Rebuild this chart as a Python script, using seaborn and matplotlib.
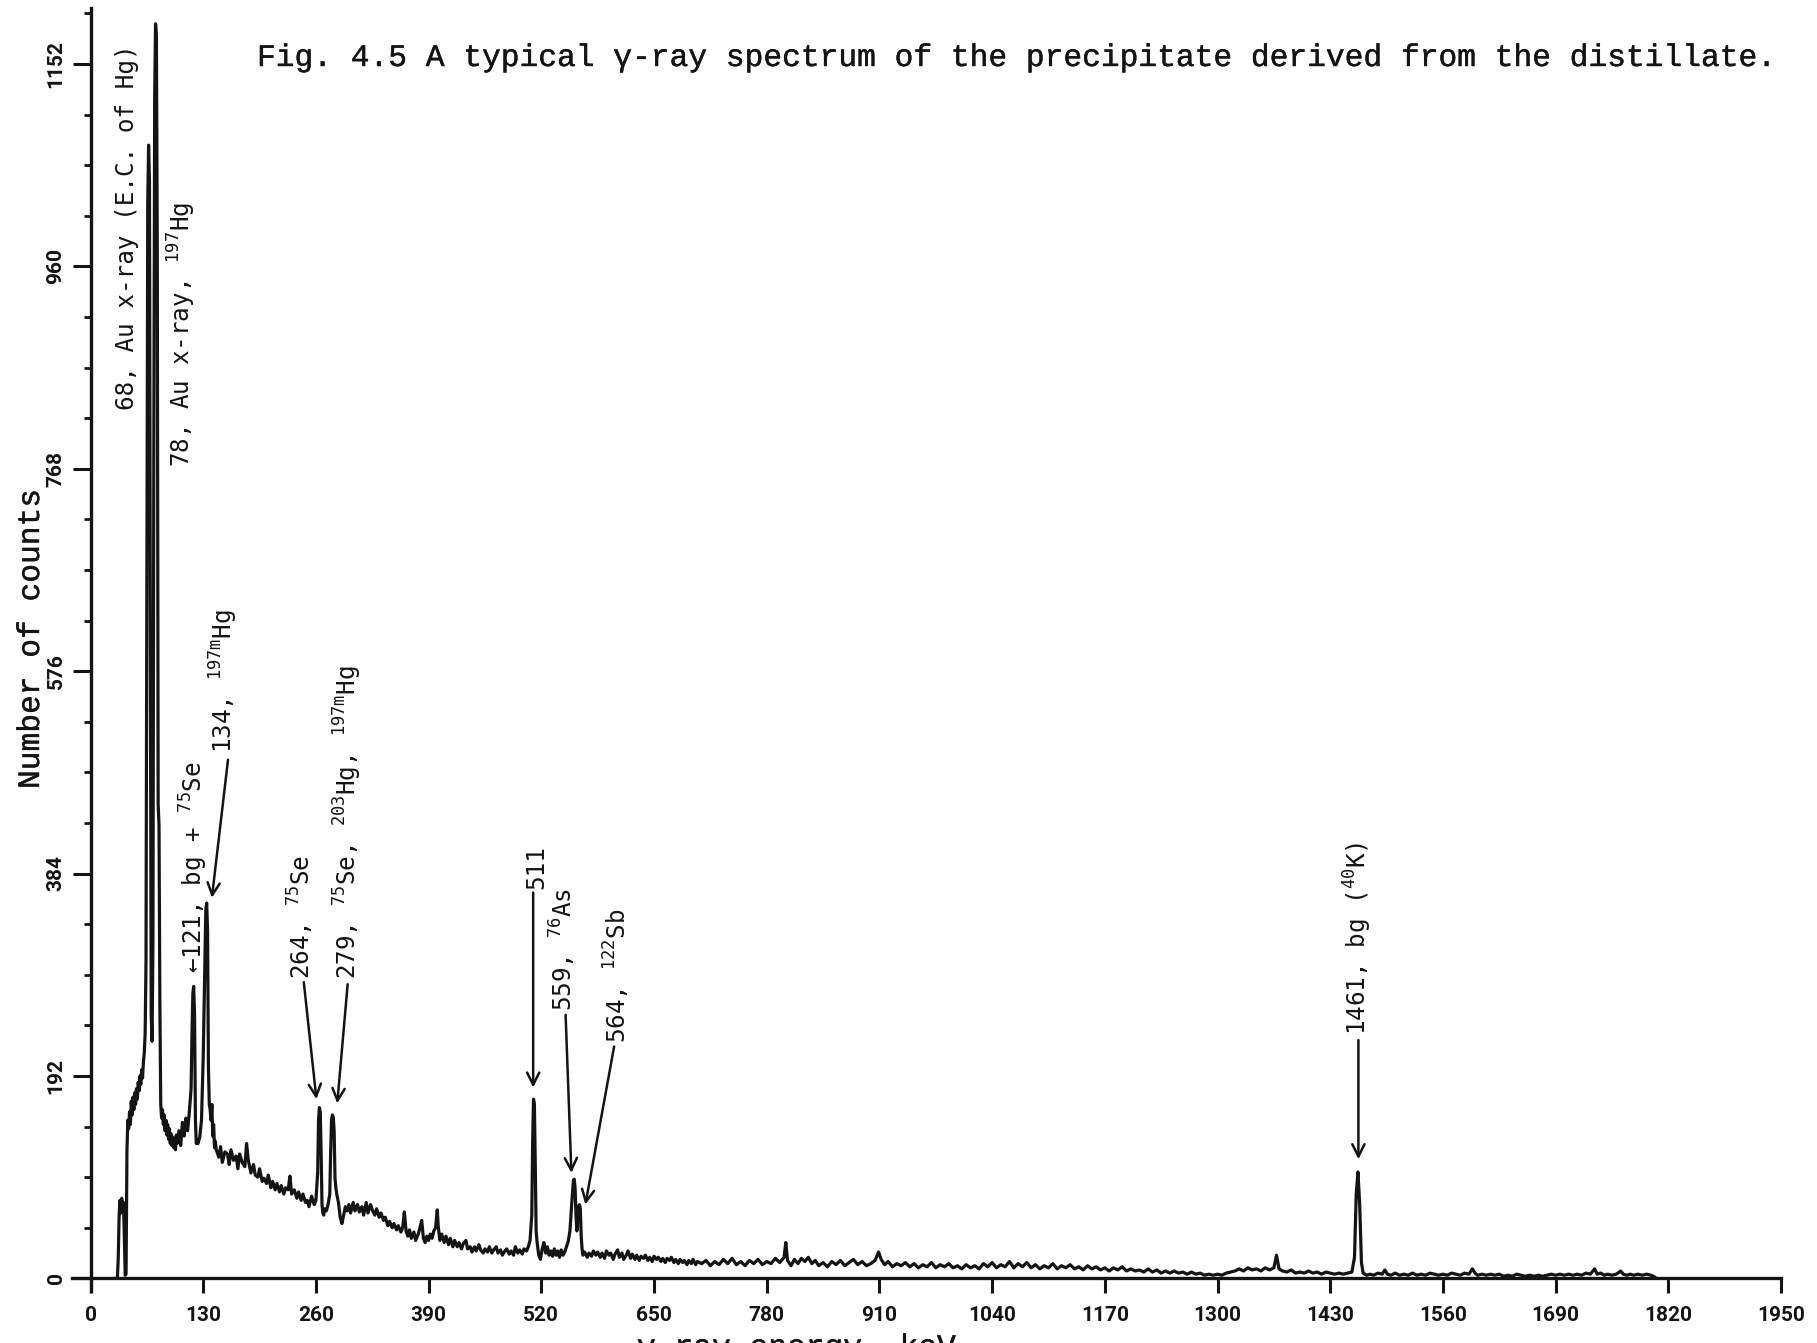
import numpy as np
import pandas as pd
import matplotlib
matplotlib.use("Agg")
import matplotlib.pyplot as plt
import matplotlib.patheffects as pe
from matplotlib.ticker import MultipleLocator, FixedLocator
from matplotlib import font_manager as fm
import seaborn as sns

# ---------------- data ----------------
e_low = [28, 31, 32, 33, 34, 35, 36, 37, 38, 39, 40, 41, 42, 43, 44, 45, 46, 47, 48, 49,
         50, 51, 52, 53, 54, 55, 56, 57, 58, 59, 60, 61, 62, 63, 64, 65, 66, 67, 68, 69,
         70, 71, 72, 73, 74, 75, 76, 77, 78, 79, 80, 81, 82, 83, 84, 85, 86, 87, 88, 89,
         90, 91, 92, 93, 94, 95, 96, 97, 98, 99, 100, 102, 104, 106, 108, 110, 112, 114,
         116, 117, 118, 119, 120, 121, 122, 123, 124, 126, 128, 130, 132, 133, 134, 135,
         136, 137, 138, 139, 140, 141, 142, 143, 144]
c_low = [0, 0, 20, 60, 74, 62, 76, 66, 72, 40, 3, 4, 120, 150, 142, 158, 146, 168, 155, 172,
         160, 176, 165, 180, 170, 186, 178, 192, 184, 198, 190, 205, 214, 232, 300, 650, 1020, 1075, 1040, 600,
         250, 225, 320, 780, 1120, 1190, 1180, 980, 450, 430, 260, 165, 152, 160, 146, 155, 140, 150, 136, 146,
         132, 142, 128, 137, 126, 134, 124, 131, 122, 136, 128, 140, 126, 148, 135, 152, 140, 158,
         180, 230, 270, 277, 250, 150, 128, 130, 128, 134, 150, 210, 300, 350, 356, 330,
         200, 165, 160, 150, 165, 135, 146, 124, 130]

e_mid = [145, 148, 150, 152, 155, 158, 160, 162, 165, 168, 170, 172, 175, 178, 180, 182, 185, 188,
         190, 193, 195, 198, 200, 203, 205, 208, 210, 213, 215, 218, 220, 223, 225, 228, 230, 232,
         235, 238, 240, 243, 245, 248, 250, 252, 255, 258, 260, 262, 263, 264, 265, 266, 267, 268,
         269, 270, 272, 274, 276, 277, 278, 279, 280, 281, 282, 283, 284, 286, 288, 290, 292, 294,
         296, 298, 300, 303, 305, 308, 310, 313, 315, 318, 320, 323, 325, 328, 330, 333, 335, 338,
         340, 343, 345, 348, 350, 353, 355, 358, 360, 362, 364, 366, 368, 370, 373, 375, 378, 380,
         382, 384, 386, 388, 390, 392, 394, 396, 398, 400, 401, 403, 405, 408, 410, 413, 415, 418,
         420, 423, 425, 428, 430, 433, 435, 438, 440, 443, 445, 448, 450, 453, 455, 458, 460, 463,
         465, 468, 470, 473, 475, 478, 480, 483, 485, 488, 490, 493, 495, 498, 500, 503, 505, 507,
         509, 510, 511, 512, 513, 514, 515, 517, 519, 521, 523, 525, 527, 529, 531, 533, 535, 537,
         539, 541, 543, 545, 547, 549, 551, 553, 555, 557, 558, 559, 560, 561, 562, 563, 564, 565,
         566, 567, 568, 570, 573, 575, 578, 580, 583, 585, 588, 590, 593, 595, 598, 600, 603, 605,
         608, 610, 613, 615, 618, 620, 623, 625, 628, 630, 633, 635, 638, 640, 643, 645, 648, 650,
         653, 655, 658, 660, 663, 665, 668, 670, 673, 675, 678, 680, 683, 685, 688, 690, 693, 695,
         698, 700]
c_mid = [122, 115, 125, 110, 120, 118, 108, 122, 112, 116, 104, 118, 110, 106, 128, 112, 100, 108,
         98, 96, 104, 92, 95, 90, 98, 86, 92, 84, 90, 82, 88, 80, 86, 84, 97, 80,
         84, 76, 82, 74, 80, 72, 74, 68, 78, 70, 74, 100, 150, 162, 158, 120, 70, 62,
         60, 66, 64, 70, 80, 120, 150, 155, 153, 140, 95, 86, 80, 72, 58, 52, 60, 68,
         64, 70, 62, 72, 64, 70, 63, 68, 60, 72, 62, 70, 65, 60, 66, 58, 62, 55,
         58, 50, 54, 48, 52, 46, 50, 44, 48, 63, 45, 40, 46, 38, 44, 36, 42, 48,
         55, 38, 34, 40, 36, 42, 38, 45, 48, 65, 50, 36, 42, 34, 40, 32, 38, 30,
         36, 30, 34, 28, 33, 36, 28, 30, 25, 30, 26, 32, 27, 24, 28, 25, 30, 24,
         27, 30, 24, 27, 22, 26, 28, 23, 26, 22, 30, 24, 27, 23, 28, 26, 30, 36,
         60, 130, 170, 165, 110, 45, 35, 22, 18, 28, 34, 24, 30, 22, 26, 21, 28, 22,
         26, 20, 27, 22, 25, 30, 35, 45, 70, 93, 94, 85, 60, 45, 55, 68, 70, 66,
         40, 28, 22, 25, 20, 24, 21, 26, 22, 25, 20, 24, 19, 26, 22, 24, 18, 23,
         27, 20, 24, 18, 22, 26, 19, 23, 18, 22, 17, 21, 19, 22, 17, 20, 16, 21,
         18, 20, 16, 19, 15, 19, 17, 20, 15, 18, 14, 18, 15, 17, 13, 17, 14, 18,
         13, 16]

e_high = [705, 710, 715, 720, 725, 730, 735, 740, 745, 750, 755, 760, 765, 770, 775, 780, 785, 790,
          795, 800, 802, 804, 808, 812, 816, 820, 824, 828, 832, 836, 840, 845, 850, 855, 860, 865,
          870, 875, 880, 885, 890, 895, 900, 905, 909, 912, 916, 920, 925, 930, 935, 940, 945, 950,
          955, 960, 965, 970, 975, 980, 985, 990, 995, 1000, 1005, 1010, 1015, 1020, 1025, 1030, 1035, 1040,
          1045, 1050, 1055, 1060, 1065, 1070, 1075, 1080, 1085, 1090, 1095, 1100, 1105, 1110, 1115, 1120,
          1125, 1130, 1135, 1140, 1145, 1150, 1155, 1160, 1165, 1170, 1175, 1180, 1185, 1190, 1195, 1200,
          1205, 1210, 1215, 1220, 1225, 1230, 1235, 1240, 1245, 1250, 1255, 1260, 1265, 1270, 1275, 1280,
          1285, 1290, 1295, 1300, 1305, 1310, 1315, 1320, 1325, 1330, 1335, 1340, 1345, 1350, 1355, 1360,
          1365, 1368, 1371, 1375, 1380, 1385, 1390, 1395, 1400, 1405, 1410, 1415, 1420, 1425, 1430, 1435,
          1440, 1445, 1450, 1455, 1458, 1460, 1462, 1464, 1466, 1468, 1472, 1476, 1480, 1485, 1490, 1493,
          1496, 1500, 1505, 1510, 1515, 1520, 1525, 1530, 1535, 1540, 1545, 1550, 1555, 1560, 1565, 1570,
          1575, 1580, 1585, 1590, 1594, 1597, 1600, 1605, 1610, 1615, 1620, 1625, 1630, 1635, 1640, 1645,
          1650, 1655, 1660, 1665, 1670, 1675, 1680, 1685, 1690, 1695, 1700, 1705, 1710, 1715, 1720, 1725,
          1730, 1735, 1738, 1742, 1746, 1750, 1755, 1760, 1765, 1768, 1772, 1776, 1780, 1785, 1790, 1795,
          1800, 1805]
c_high = [14, 17, 12, 16, 13, 18, 14, 19, 13, 16, 12, 17, 14, 18, 13, 16, 14, 19,
          15, 20, 34, 17, 12, 18, 14, 19, 16, 20, 14, 17, 12, 15, 11, 16, 13, 17,
          12, 15, 18, 13, 16, 12, 14, 17, 25, 18, 13, 16, 11, 14, 12, 15, 11, 14,
          10, 13, 11, 15, 10, 13, 11, 14, 10, 12, 9, 13, 10, 12, 9, 14, 11, 15,
          10, 13, 11, 16, 10, 14, 11, 15, 10, 13, 9, 12, 10, 14, 9, 12,
          10, 13, 9, 11, 8, 12, 9, 11, 8, 10, 7, 10, 8, 11, 7, 9,
          7, 8, 6, 9, 6, 8, 5, 7, 5, 7, 5, 6, 4, 6, 4, 5,
          3, 4, 3, 4, 3, 5, 6, 7, 9, 7, 10, 8, 9, 7, 10, 8,
          10, 22, 9, 7, 6, 8, 5, 6, 5, 7, 5, 6, 4, 6, 5, 4,
          5, 4, 5, 6, 20, 80, 101, 70, 15, 5, 3, 4, 3, 5, 4, 8,
          4, 3, 5, 3, 4, 3, 5, 3, 4, 3, 5, 4, 3, 4, 3, 5,
          4, 3, 5, 4, 9, 5, 3, 4, 3, 4, 3, 4, 2, 3, 2, 4,
          3, 2, 3, 2, 3, 2, 3, 4, 3, 4, 3, 4, 3, 4, 3, 5,
          4, 9, 4, 5, 3, 4, 3, 4, 7, 4, 3, 4, 3, 4, 3, 4,
          3, 1]

x_tick_values = [0, 130, 260, 390, 520, 650, 780, 910, 1040, 1170, 1300, 1430, 1560, 1690, 1820, 1950]
y_tick_values = [0, 192, 384, 576, 768, 960, 1152]

title_text = "Fig. 4.5 A typical \u03b3-ray spectrum of the precipitate derived from the distillate."
ylabel_text = "Number of counts"
xlabel_text = "\u03b3-ray energy, keV"

# peak labels: (text, x, y) and arrows: (x_from, y_from, x_to, y_to)
peak_labels = [
    ("68, Au x-ray (E.C. of Hg)", 42, 824),
    ("78, Au x-ray, $^{197}$Hg", 105, 770),
    ("\u2190121, bg + $^{75}$Se", 119, 290),
    ("134, $^{197m}$Hg", 154, 498),
    ("264, $^{75}$Se", 243, 284),
    ("279, $^{75}$Se, $^{203}$Hg, $^{197m}$Hg", 296.6, 284),
    ("511", 514.6, 369),
    ("559, $^{76}$As", 545, 254),
    ("564, $^{122}$Sb", 607, 223),
    ("1461, bg ($^{40}$K)", 1462.4, 231),
]
peak_arrows = [
    (158.6, 492, 140.0, 361),
    (246.0, 281, 260.6, 170),
    (296.6, 279, 284.6, 166),
    (510.6, 366, 510.6, 181),
    (548.0, 250, 554.7, 100),
    (604.0, 220, 570.8, 70),
    (1462.5, 226, 1462.5, 113),
]

# ---------------- style ----------------
sns.set_style("white")
plt.rcParams["font.family"] = ["DejaVu Sans"]
plt.rcParams["mathtext.fontset"] = "custom"
plt.rcParams["mathtext.rm"] = "DejaVu Sans Mono"
plt.rcParams["mathtext.it"] = "DejaVu Sans Mono"
plt.rcParams["mathtext.bf"] = "DejaVu Sans Mono:bold"
plt.rcParams["mathtext.default"] = "regular"


def has_font(name):
    try:
        fm.findfont(fm.FontProperties(family=name), fallback_to_default=False)
        return True
    except Exception:
        return False


if has_font("Liberation Sans Narrow"):
    tick_family, tick_size = "Liberation Sans Narrow", 16
elif has_font("Roboto"):
    tick_family, tick_size = "Roboto", 15
else:
    tick_family, tick_size = "DejaVu Sans", 13

ink = "#141414"
mono_serif = ["Liberation Mono", "DejaVu Sans Mono"]
mono_sans = ["DejaVu Sans Mono", "DejaVu Sans"]
thicken = [pe.withStroke(linewidth=0.3, foreground=ink)]

df = pd.DataFrame({
    "energy": e_low + e_mid + e_high,
    "counts": c_low + c_mid + c_high,
})

fig = plt.figure(figsize=(18.17, 13.43), dpi=100)
fig.patch.set_facecolor("white")
ax = fig.add_axes([0.0398, 0.0387, 0.9404, 0.9553])
ax.set_facecolor("white")

sns.lineplot(data=df, x="energy", y="counts", ax=ax, color=ink, linewidth=2.3,
             estimator=None, sort=False)
for ln in ax.lines:
    ln.set_solid_joinstyle("round")

ax.set_xlim(-21, 1950)
ax.set_ylim(-12, 1205)

for s in ["top", "right"]:
    ax.spines[s].set_visible(False)
ax.spines["left"].set_position(("data", 0))
ax.spines["bottom"].set_position(("data", 0))
for s in ["left", "bottom"]:
    ax.spines[s].set_linewidth(2.4)
    ax.spines[s].set_color(ink)

ax.xaxis.set_major_locator(FixedLocator(x_tick_values))
ax.yaxis.set_major_locator(FixedLocator(y_tick_values))
ax.yaxis.set_minor_locator(MultipleLocator(48))
ax.set_xticklabels([str(v) for v in x_tick_values])
ax.set_yticklabels([str(v) for v in y_tick_values])

ax.tick_params(axis="x", which="major", bottom=True, direction="out", length=11, width=2.2,
               color=ink, pad=9, labelsize=tick_size, labelcolor=ink)
ax.tick_params(axis="y", which="major", left=True, direction="out", length=13, width=2.2,
               color=ink, pad=5, labelsize=tick_size, labelcolor=ink, labelrotation=90)
ax.tick_params(axis="y", which="minor", left=True, direction="out", length=5, width=2.0, color=ink)
for lab in ax.get_xticklabels() + ax.get_yticklabels():
    lab.set_fontfamily(tick_family)
    lab.set_fontweight("bold")
for lab in ax.get_yticklabels():
    lab.set_va("center")

ax.set_xlabel("")
ax.set_ylabel("")

# peak labels
for txt, x, y in peak_labels:
    ax.text(x, y, txt, rotation=90, rotation_mode="anchor", ha="left", va="center",
            fontsize=17.5, family=mono_sans, color=ink)
for x0, y0, x1, y1 in peak_arrows:
    ax.annotate("", xy=(x1, y1), xytext=(x0, y0),
                arrowprops=dict(arrowstyle="->", lw=1.8, color=ink, mutation_scale=22,
                                shrinkA=0, shrinkB=0))

# title, axis labels
fig.text(257 / 1817, 1 - 58 / 1343, title_text, ha="left", va="center",
         fontsize=22.5, family=mono_serif, color=ink, path_effects=thicken)
fig.text(31 / 1817, 1 - 639 / 1343, ylabel_text, rotation=90, ha="center", va="center",
         fontsize=22.5, family=mono_serif, color=ink, path_effects=thicken)
fig.text(637 / 1817, (1343 - 1356) / 1343, xlabel_text, ha="left", va="baseline",
         fontsize=22.5, family=mono_serif, color=ink, path_effects=thicken)

fig.savefig("out.png", dpi=100, facecolor="white")
